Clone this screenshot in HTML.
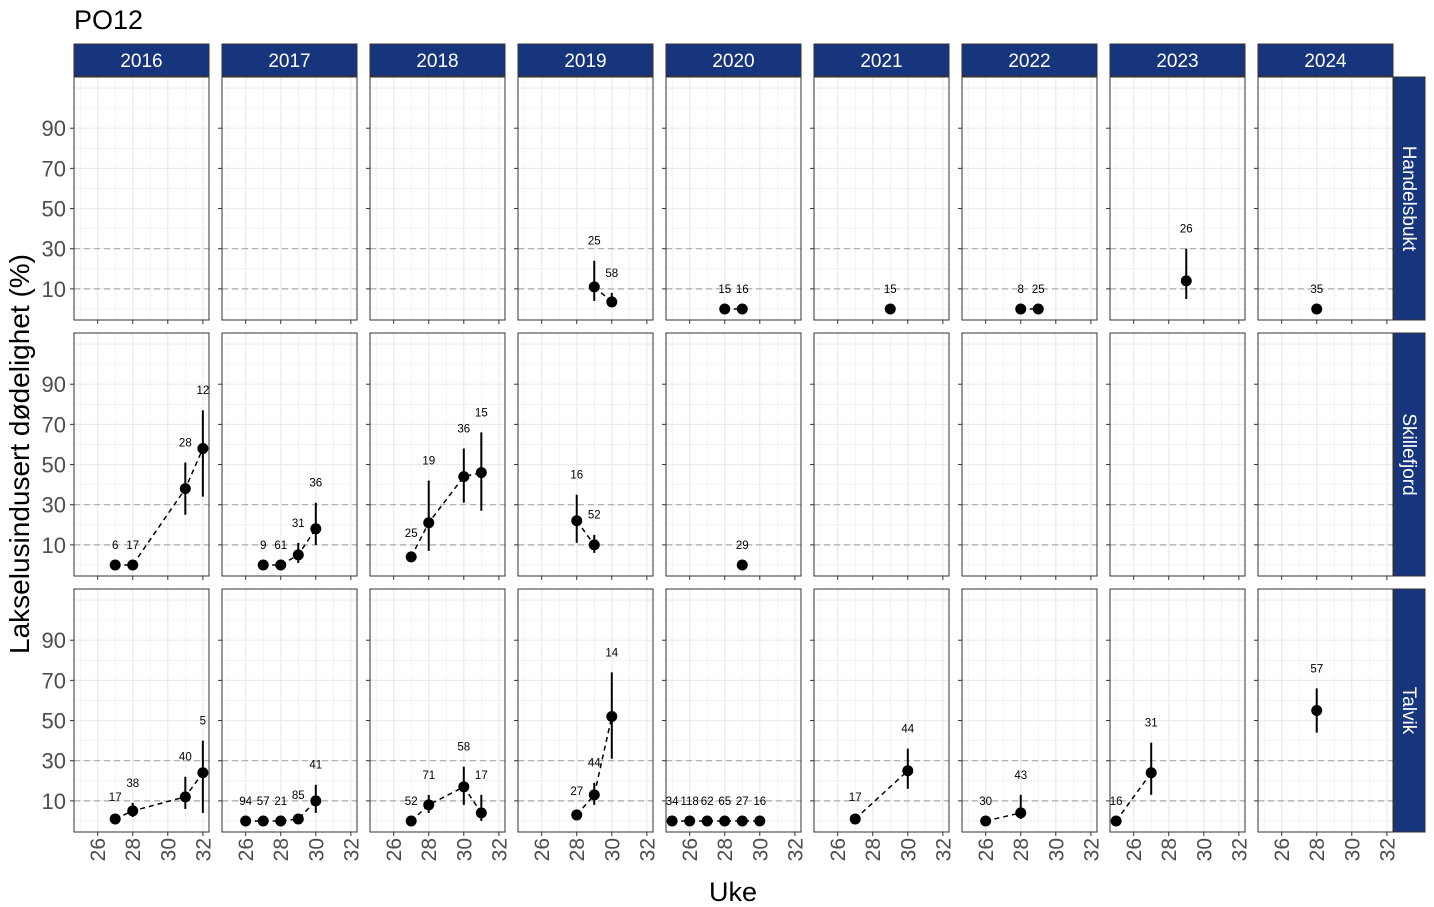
<!DOCTYPE html>
<html><head><meta charset="utf-8"><style>
body{margin:0;background:#fff;}
svg{display:block;font-family:"Liberation Sans",Arial,sans-serif;}
</style></head><body>
<svg id="chart" width="1434" height="907" viewBox="0 0 1434 907" xmlns="http://www.w3.org/2000/svg">
<rect width="1434" height="907" fill="#fff"/>
<text x="74" y="29" font-size="27" fill="#000">PO12</text>
<text x="733" y="901" font-size="27" text-anchor="middle" fill="#000">Uke</text>
<text transform="translate(29,454) rotate(-90)" font-size="28" text-anchor="middle" fill="#000">Lakselusindusert dødelighet (%)</text>
<g id="panels"></g>
</svg>
<script>
const years = [2016,2017,2018,2019,2020,2021,2022,2023,2024];
const sites = ["Handelsbukt","Skillefjord","Talvik"];
const yTicks = [10,30,50,70,90];
const xTicks = [26,28,30,32];
const refLines = [10,30];
// point data (site index, year, week, value, lower, upper, n label)
const pointSite = [0,0,0,0,0,0,0,0,0, 1,1,1,1, 1,1,1,1, 1,1,1,1, 1,1, 1, 2,2,2,2, 2,2,2,2,2, 2,2,2,2, 2,2,2, 2,2,2,2,2,2, 2,2, 2,2, 2,2, 2];
const pointYear = [2019,2019,2020,2020,2021,2022,2022,2023,2024, 2016,2016,2016,2016, 2017,2017,2017,2017, 2018,2018,2018,2018, 2019,2019, 2020, 2016,2016,2016,2016, 2017,2017,2017,2017,2017, 2018,2018,2018,2018, 2019,2019,2019, 2020,2020,2020,2020,2020,2020, 2021,2021, 2022,2022, 2023,2023, 2024];
const pointWeek = [29,30,28,29,29,28,29,29,28, 27,28,31,32, 27,28,29,30, 27,28,30,31, 28,29, 29, 27,28,31,32, 26,27,28,29,30, 27,28,30,31, 28,29,30, 25,26,27,28,29,30, 27,30, 26,28, 25,27, 28];
const pointValue = [11,3.5,0,0,0,0,0,14,0, 0,0,38,58, 0,0,5,18, 4,21,44,46, 22,10, 0, 1,5,12,24, 0,0,0,1,10, 0,8,17,4, 3,13,52, 0,0,0,0,0,0, 1,25, 0,4, 0,24, 55];
const pointLow = [4,1,0,0,0,0,0,5,0, 0,0,25,34, 0,0,1,10, 2,7,31,27, 11,6, 0, 0,2,6,4, 0,0,0,0,4, 0,4,8,0, 1,8,31, 0,0,0,0,0,0, 0,16, 0,1, 0,13, 44];
const pointHigh = [24,8,0,0,0,0,0,30,0, 0,0,51,77, 0,0,11,31, 6,42,58,66, 35,15, 0, 2,9,22,40, 0,0,0,3,18, 0,13,27,13, 5,19,74, 0,0,0,0,0,0, 2,36, 0,13, 0,39, 66];
const pointN = ["25","58","15","16","15","8","25","26","35", "6","17","28","12", "9","61","31","36", "25","19","36","15", "16","52", "29", "17","38","40","5", "94","57","21","85","41", "52","71","58","17", "27","44","14", "34","118","62","65","27","16", "17","44", "30","43", "16","31", "57"];

const NS="http://www.w3.org/2000/svg";
const root=document.getElementById('panels');
function mk(tag,attrs,parent){const e=document.createElementNS(NS,tag);for(const k in attrs)e.setAttribute(k,attrs[k]);(parent||root).appendChild(e);return e;}
const colX0=74, colPitch=148, pw=135;
const rowY0=77, rowPitch=256, ph=243;
const xMin=24.65, xMax=32.35, yMin=-5.5, yMax=115.5;
function xs(c,w){return colX0+c*colPitch+(w-xMin)/(xMax-xMin)*pw;}
function ys(r,v){return rowY0+r*rowPitch+ph-(v-yMin)/(yMax-yMin)*ph;}

years.forEach((yr,c)=>{
  const x0=colX0+c*colPitch;
  const s=mk('rect',{x:x0,y:44,width:pw,height:32,fill:'#17357d',stroke:'#333','stroke-width':1});
  
  
  const t=mk('text',{x:x0+pw/2,y:67,'font-size':19,fill:'#fff','text-anchor':'middle'});
  t.textContent=yr;
  
  
});
sites.forEach((st,r)=>{
  const y0=rowY0+r*rowPitch;
  const s=mk('rect',{x:1394,y:y0,width:31,height:ph,fill:'#17357d',stroke:'#333','stroke-width':1});
  
  
  const t=mk('text',{transform:`translate(1403,${y0+ph/2}) rotate(90)`,'font-size':19,fill:'#fff','text-anchor':'middle'});
  t.textContent=st;
  
  
  yTicks.forEach(v=>{
    const tl=mk('text',{x:66,y:ys(r,v)+8,'font-size':22,fill:'#4d4d4d','text-anchor':'end'});
    tl.textContent=v;
    
    
  });
});

sites.forEach((st,r)=>{
  years.forEach((yr,c)=>{
    const x0=colX0+c*colPitch, y0=rowY0+r*rowPitch;
    const g=mk('g',{});
    
    
    mk('rect',{x:x0,y:y0,width:pw,height:ph,fill:'#fff'},g);
    for(let w=25;w<=32;w++){const X=xs(c,w);mk('line',{x1:X,x2:X,y1:y0,y2:y0+ph,stroke:'#ebebeb','stroke-width':w%2?0.6:1.2},g);}
    for(let v=0;v<=110;v+=10){const Y=ys(r,v);mk('line',{x1:x0,x2:x0+pw,y1:Y,y2:Y,stroke:'#ebebeb','stroke-width':(v/10)%2?1.2:0.6},g);}
    refLines.forEach(v=>{const l=mk('line',{x1:x0,x2:x0+pw,y1:ys(r,v),y2:ys(r,v),stroke:'#aaa','stroke-width':1.2,'stroke-dasharray':'6,4'},g);
      
      });
    const idx=[];
    pointSite.forEach((s,i)=>{if(s===r&&pointYear[i]===yr)idx.push(i);});
    idx.sort((a,b)=>pointWeek[a]-pointWeek[b]);
    if(idx.length>1){
      const p=mk('polyline',{points:idx.map(i=>xs(c,pointWeek[i])+','+ys(r,pointValue[i])).join(' '),fill:'none',stroke:'#000','stroke-width':1.5,'stroke-dasharray':'5,4'},g);
      
      
    }
    idx.forEach(i=>{
      const X=xs(c,pointWeek[i]);
      const eb=mk('line',{x1:X,x2:X,y1:ys(r,pointLow[i]),y2:ys(r,pointHigh[i]),stroke:'#000','stroke-width':2},g);
      
      
      const pt=mk('circle',{cx:X,cy:ys(r,pointValue[i]),r:5.5,fill:'#000'},g);
      
      
      const lb=mk('text',{x:X,y:ys(r,pointHigh[i]+10)+4,'font-size':11.5,fill:'#000','text-anchor':'middle'},g);
      lb.textContent=pointN[i];
      
      
    });
    mk('rect',{x:x0,y:y0,width:pw,height:ph,fill:'none',stroke:'#333','stroke-width':1},g);
    yTicks.forEach(v=>mk('line',{x1:x0-4,x2:x0,y1:ys(r,v),y2:ys(r,v),stroke:'#333','stroke-width':1},g));
    xTicks.forEach(w=>mk('line',{x1:xs(c,w),x2:xs(c,w),y1:y0+ph,y2:y0+ph+4,stroke:'#333','stroke-width':1},g));
  });
});
years.forEach((yr,c)=>{
  xTicks.forEach(w=>{
    const X=xs(c,w);
    const t=mk('text',{transform:`translate(${X+7.5},${838}) rotate(-90)`,'font-size':21,fill:'#4d4d4d','text-anchor':'end'});
    t.textContent=w;
    
    
  });
});
</script>
</body></html>
